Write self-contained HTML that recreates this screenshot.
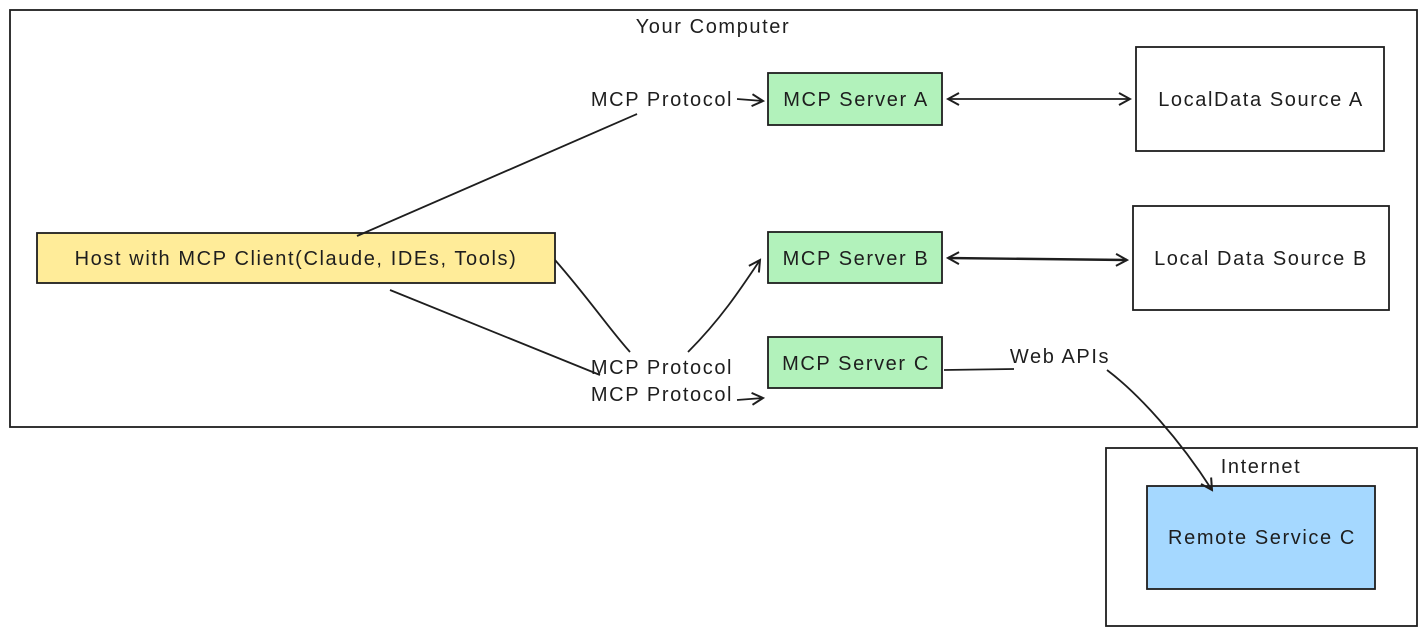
<!DOCTYPE html>
<html><head><meta charset="utf-8"><style>
html,body{margin:0;padding:0;background:#fff;width:1426px;height:636px;overflow:hidden}
svg{display:block}
text{font-family:"Liberation Sans",sans-serif;font-size:20px;letter-spacing:1.6px;fill:#1e1e1e}
</style></head><body>
<svg width="1426" height="636" viewBox="0 0 1426 636">
<defs>
<marker id="a" markerWidth="14" markerHeight="14" refX="12" refY="7" orient="auto-start-reverse" markerUnits="userSpaceOnUse">
<path d="M1,1 L12,7 L1,13" fill="none" stroke="#1e1e1e" stroke-width="2"/>
</marker>
</defs>
<g fill="none" stroke="#1e1e1e" stroke-width="1.8">
<rect x="10" y="10" width="1407" height="417"/>
<rect x="1106" y="448" width="311" height="178"/>
<rect x="37" y="233" width="518" height="50" fill="#ffec99"/>
<rect x="768" y="73" width="174" height="52" fill="#b2f2bb"/>
<rect x="768" y="232" width="174" height="51" fill="#b2f2bb"/>
<rect x="768" y="337" width="174" height="51" fill="#b2f2bb"/>
<rect x="1136" y="47" width="248" height="104"/>
<rect x="1133" y="206" width="256" height="104"/>
<rect x="1147" y="486" width="228" height="103" fill="#a5d8ff"/>
<path d="M357,236 L637,114"/>
<path d="M737,99 L763,101" marker-end="url(#a)"/>
<path d="M555,260 C590,300 610,330 630,352"/>
<path d="M688,352 C720,320 740,290 760,260" marker-end="url(#a)"/>
<path d="M390,290 L600,375"/>
<path d="M737,400 L763,398" marker-end="url(#a)"/>
<path d="M948,99 L1130,99" marker-start="url(#a)" marker-end="url(#a)"/>
<path d="M948,258 L1127,260" marker-start="url(#a)" marker-end="url(#a)" stroke-width="2.4"/>
<path d="M944,370 L1014,369"/>
<path d="M1107,370 C1140,395 1180,440 1212,490" marker-end="url(#a)"/>
</g>
<text x="713" y="33" text-anchor="middle">Your Computer</text>
<text x="1261" y="473" text-anchor="middle">Internet</text>
<text x="296" y="265" text-anchor="middle">Host with MCP Client(Claude, IDEs, Tools)</text>
<text x="856" y="106" text-anchor="middle">MCP Server A</text>
<text x="856" y="265" text-anchor="middle">MCP Server B</text>
<text x="856" y="370" text-anchor="middle">MCP Server C</text>
<text x="1261" y="106" text-anchor="middle">LocalData Source A</text>
<text x="1261" y="265" text-anchor="middle">Local Data Source B</text>
<text x="1262" y="544" text-anchor="middle">Remote Service C</text>
<text x="662" y="106" text-anchor="middle">MCP Protocol</text>
<text x="662" y="374" text-anchor="middle">MCP Protocol</text>
<text x="662" y="401" text-anchor="middle">MCP Protocol</text>
<text x="1060" y="363" text-anchor="middle">Web APIs</text>
</svg>
</body></html>
